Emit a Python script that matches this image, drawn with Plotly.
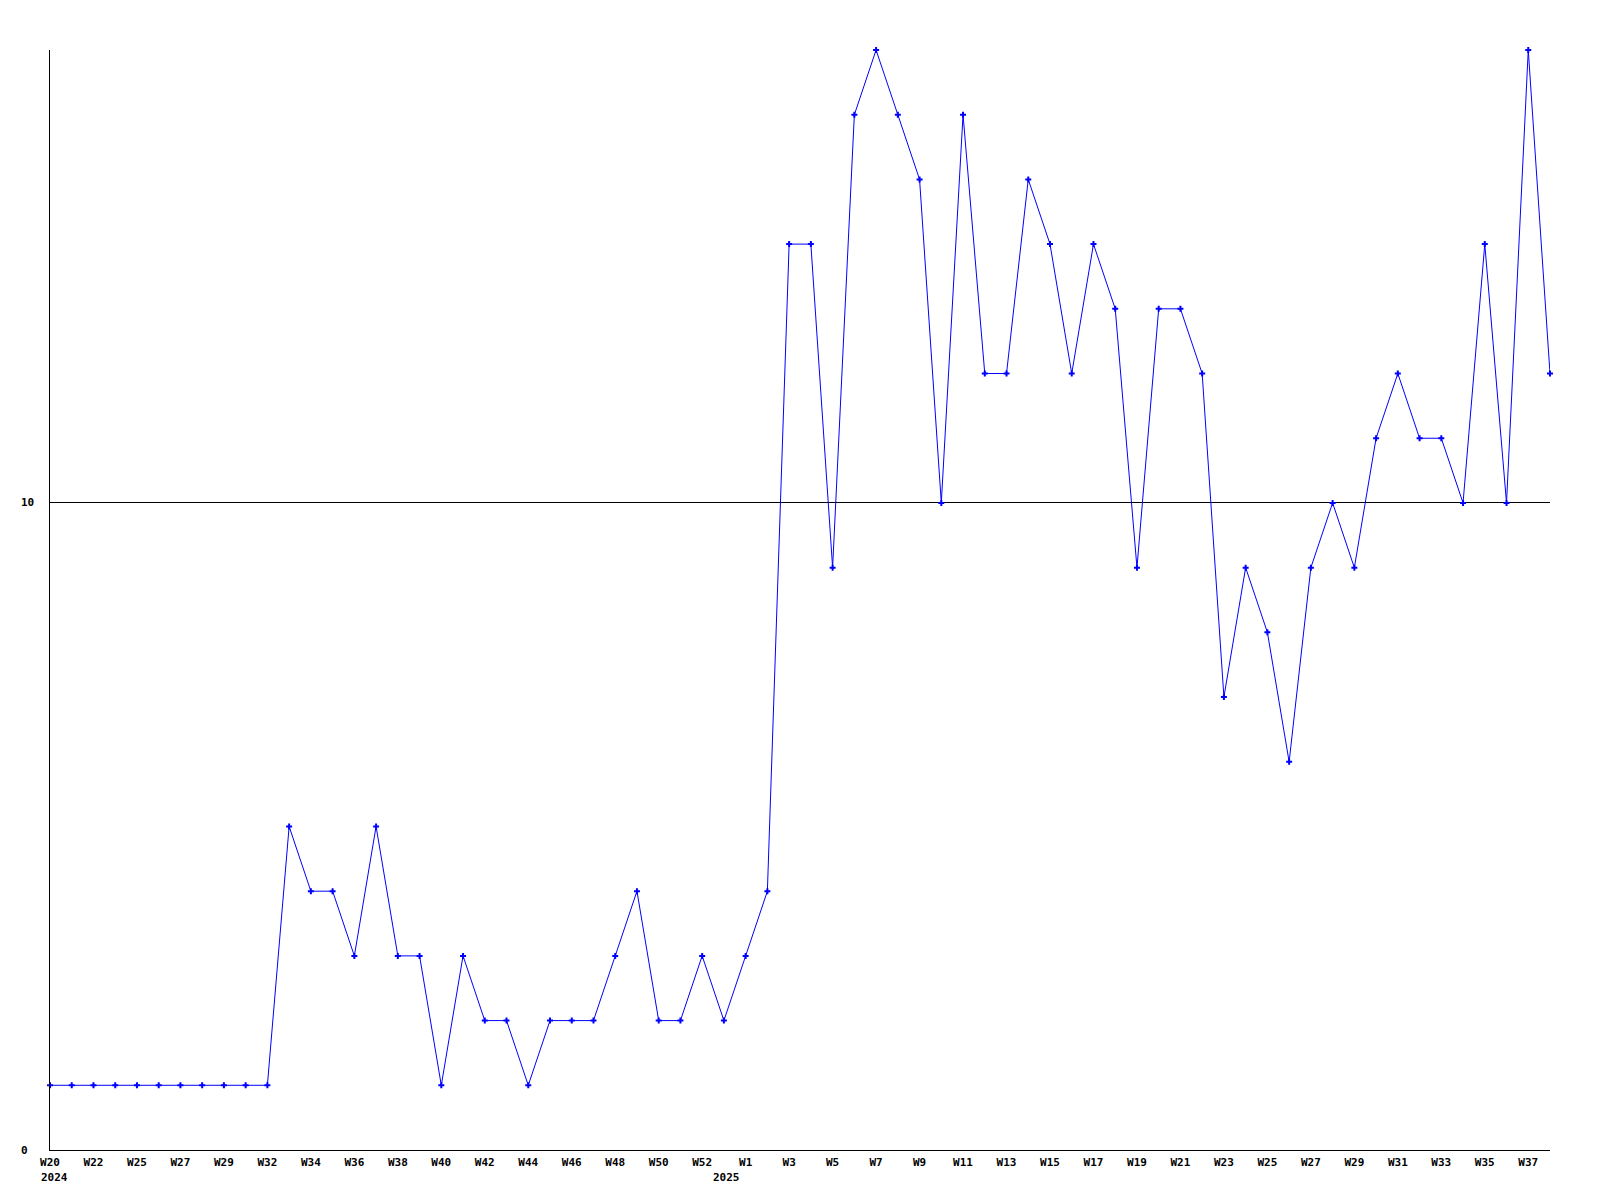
import plotly.graph_objects as go

values = [1, 1, 1, 1, 1, 1, 1, 1, 1, 1, 1, 5, 4, 4, 3, 5, 3, 3, 1, 3,
          2, 2, 1, 2, 2, 2, 3, 4, 2, 2, 3, 2, 3, 4, 14, 14, 9, 16, 17, 16,
          15, 10, 16, 12, 12, 15, 14, 12, 14, 13, 9, 13, 13, 12, 7, 9, 8, 6, 9, 10,
          9, 11, 12, 11, 11, 10, 14, 10, 17, 12]

tick_labels = ["W20", "W22", "W25", "W27", "W29", "W32", "W34", "W36", "W38", "W40",
               "W42", "W44", "W46", "W48", "W50", "W52", "W1", "W3", "W5", "W7",
               "W9", "W11", "W13", "W15", "W17", "W19", "W21", "W23", "W25", "W27",
               "W29", "W31", "W33", "W35", "W37"]
tick_positions = [i * 2 for i in range(len(tick_labels))]
year_labels = ["2024", "2025"]
year_positions = [0, 32]
y_ticks = [0, 10]

x = list(range(len(values)))
font = dict(family="DejaVu Sans Mono", size=11, color="black", weight="bold")

fig = go.Figure()
fig.add_trace(go.Scatter(
    x=x, y=values, mode="lines+markers",
    line=dict(color="#0000ff", width=1),
    marker=dict(symbol="cross", size=5, color="#0000ff", line=dict(width=0)),
    cliponaxis=False, hoverinfo="skip"))

fig.update_layout(
    width=1600, height=1200,
    margin=dict(l=42, r=58, t=42, b=58),
    paper_bgcolor="white", plot_bgcolor="white",
    showlegend=False,
    xaxis=dict(range=[0, len(values) - 1], tickvals=tick_positions, ticktext=tick_labels,
               showgrid=False, zeroline=False, showline=True, linecolor="black",
               linewidth=1, ticks="", tickfont=font, ticklabelstandoff=2),
    yaxis=dict(range=[0, 17], tickvals=y_ticks, showticklabels=False,
               showgrid=True, gridcolor="black", gridwidth=1, zeroline=False,
               showline=True, linecolor="black", linewidth=1, ticks=""),
)

for v in y_ticks:
    fig.add_annotation(x=0, xref="paper", y=v, yref="y", text=str(v),
                       showarrow=False, xanchor="left", xshift=-31, font=font)

fig.add_annotation(x=year_positions[0], xref="x", y=0, yref="paper", text=year_labels[0],
                   showarrow=False, xanchor="left", yanchor="top", xshift=-11, yshift=-19,
                   font=font)
fig.add_annotation(x=year_positions[1], xref="x", y=0, yref="paper", text=year_labels[1],
                   showarrow=False, xanchor="right", yanchor="top", xshift=-4, yshift=-19,
                   font=font)

fig.write_html("out.html")
